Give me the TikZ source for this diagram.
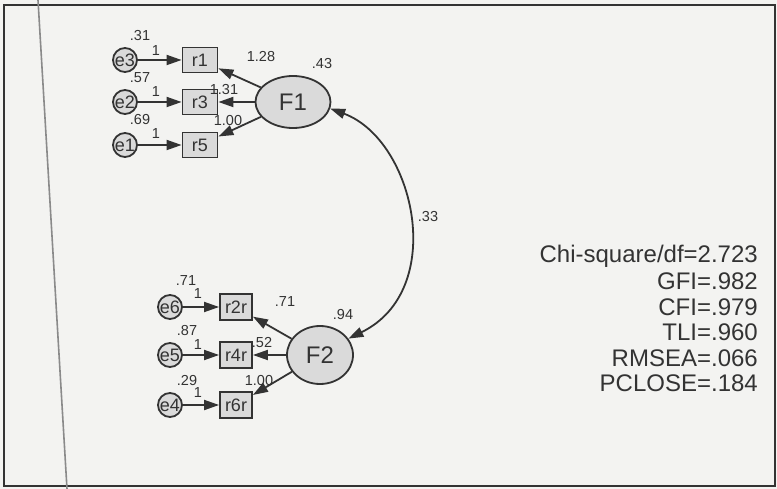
\documentclass[tikz,border=0pt]{standalone}
\usepackage{fontspec}
\setmainfont{Liberation Sans}
\usetikzlibrary{arrows.meta,shapes.geometric}
\definecolor{ink}{HTML}{333333}
\definecolor{nodefill}{HTML}{DADADA}
\definecolor{paper}{HTML}{F3F3F1}
\definecolor{edge}{HTML}{8A8A8A}
\begin{document}
\begin{tikzpicture}[x=1pt,y=-1pt,
  obs/.style={draw=ink, fill=nodefill, line width=1.8pt, minimum width=35pt, minimum height=25pt, inner sep=1pt, font=\fontsize{18}{18}\selectfont, text=ink},
  err/.style={circle, draw=ink, fill=nodefill, line width=1.8pt, minimum size=24pt, inner sep=0pt, font=\fontsize{18}{18}\selectfont, text=ink},
  lat/.style={ellipse, draw=ink, fill=nodefill, line width=1.8pt, inner sep=0pt, font=\fontsize{24}{24}\selectfont, text=ink},
  arr/.style={draw=ink, line width=1.8pt, -{Triangle[length=15pt,width=10pt]}},
  lbl/.style={text=ink, font=\fontsize{14.5}{14.5}\selectfont, inner sep=0pt},
  fit/.style={text=ink, font=\fontsize{24}{24}\selectfont, anchor=east, inner sep=0pt}]
\fill[paper] (0,0) rectangle (777,489);
\useasboundingbox (0,0) rectangle (777,489);
\draw[ink, line width=1.6pt] (4,5) rectangle (775,486);
\draw[edge, line width=1.6pt] (38,0) -- (67,489);

% F1 group
\node[err] (e3) at (125,60) {e3};
\node[err] (e2) at (125,102) {e2};
\node[err] (e1) at (125,145) {e1};
\node[obs] (r1) at (200,60) {r1};
\node[obs] (r3) at (200,102) {r3};
\node[obs] (r5) at (200,145) {r5};
\node[lat, minimum width=75pt, minimum height=52pt] (F1) at (293,102) {F1};

% F2 group
\node[err] (e6) at (170,307) {e6};
\node[err] (e5) at (170,355) {e5};
\node[err] (e4) at (170,405) {e4};
\node[obs, minimum width=32pt, minimum height=26pt] (r2r) at (236,307) {r2r};
\node[obs, minimum width=32pt, minimum height=26pt] (r4r) at (236,355) {r4r};
\node[obs, minimum width=32pt, minimum height=26pt] (r6r) at (236,405) {r6r};
\node[lat, minimum width=66pt, minimum height=58pt] (F2) at (320,355) {F2};

% arrows
\draw[arr] (e3) -- (r1);
\draw[arr] (e2) -- (r3);
\draw[arr] (e1) -- (r5);
\draw[arr] (F1) -- (r1);
\draw[arr] (F1) -- (r3);
\draw[arr] (F1) -- (r5);
\draw[arr] (e6) -- (r2r);
\draw[arr] (e5) -- (r4r);
\draw[arr] (e4) -- (r6r);
\draw[arr] (F2) -- (r2r);
\draw[arr] (F2) -- (r4r);
\draw[arr] (F2) -- (r6r);
\draw[draw=ink, line width=1.8pt, {Triangle[length=15pt,width=10pt]}-{Triangle[length=15pt,width=10pt]}]
  (F1.-10) .. controls (415,140) and (448,290) .. (F2.30);

% labels
\node[lbl] (l31) at (140,36) {.31};
\node[lbl] (l1a) at (156,51) {1};
\node[lbl] (l57) at (140,78) {.57};
\node[lbl] (l1b) at (156,92) {1};
\node[lbl] (l69) at (140,120) {.69};
\node[lbl] (l1c) at (156,134) {1};
\node[lbl] (l128) at (261,57) {1.28};
\node[lbl] (l43) at (322,64) {.43};
\node[lbl] (l131) at (224,90) {1.31};
\node[lbl] (l100a) at (228,121) {1.00};
\node[lbl] (l71a) at (186,281) {.71};
\node[lbl] (l1d) at (198,294) {1};
\node[lbl] (l71b) at (285,302) {.71};
\node[lbl] (l94) at (343,315) {.94};
\node[lbl] (l87) at (187,331) {.87};
\node[lbl] (l1e) at (198,345) {1};
\node[lbl] (l52) at (262,343) {.52};
\node[lbl] (l29) at (187,381) {.29};
\node[lbl] (l1f) at (198,393) {1};
\node[lbl] (l100b) at (259,381) {1.00};
\node[lbl] (l33) at (428,217) {.33};

% fit indices
\node[fit] (chi) at (758,256) {Chi-square/df=2.723};
\node[fit] (gfi) at (758,281.5) {GFI=.982};
\node[fit] (cfi) at (758,307) {CFI=.979};
\node[fit] (tli) at (758,332.5) {TLI=.960};
\node[fit] (rmsea) at (758,358) {RMSEA=.066};
\node[fit] (pclose) at (758,383.5) {PCLOSE=.184};
\end{tikzpicture}
\end{document}
